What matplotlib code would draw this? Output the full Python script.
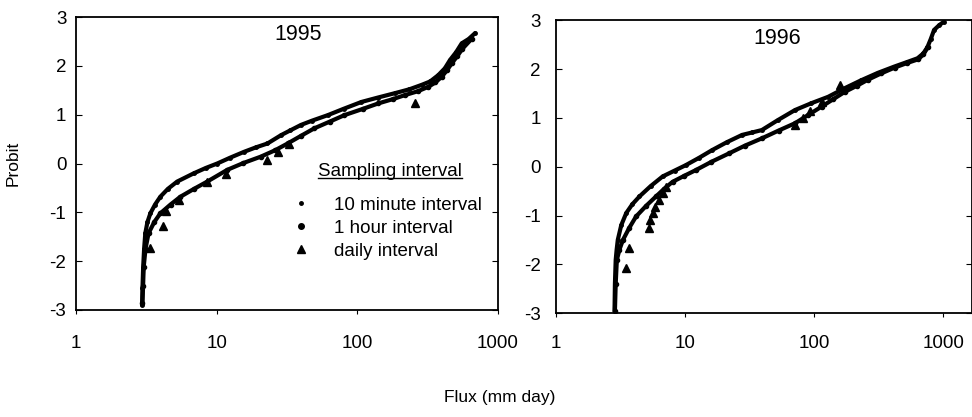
import matplotlib.pyplot as plt
from matplotlib.lines import Line2D
from matplotlib.ticker import FixedLocator, FixedFormatter, NullLocator

plt.rcParams['font.family'] = ['Liberation Sans', 'DejaVu Sans']
plt.rcParams['axes.unicode_minus'] = False

# 1995 data (flux in mm/day, probit)
flux_95_10min = [2.95, 2.97, 3.0, 3.05, 3.11, 3.22, 3.38, 3.65, 3.98, 4.5, 5.24, 6.89, 8.4, 10.1,
                 12.5, 15.7, 19.0, 23.0, 28.7, 33.5, 39.8, 48.0, 61.7, 80.0, 107, 140, 185, 235,
                 287, 330, 377, 420, 457, 505, 553, 620, 689]
prob_95_10min = [-2.90, -2.55, -2.15, -1.75, -1.43, -1.20, -1.02, -0.84, -0.68, -0.52, -0.37, -0.20,
                 -0.09, 0.00, 0.12, 0.24, 0.33, 0.41, 0.58, 0.68, 0.79, 0.88, 0.99, 1.12, 1.26, 1.35,
                 1.44, 1.52, 1.61, 1.68, 1.81, 1.95, 2.12, 2.28, 2.46, 2.55, 2.67]
flux_95_1hr = [2.97, 3.0, 3.03, 3.12, 3.28, 3.6, 3.98, 4.7, 5.53, 6.9, 8.58, 11.9, 15.5, 20.6,
               26.0, 32.0, 40.0, 49.5, 64.0, 81.0, 110, 141, 180, 218, 270, 320, 360, 400, 435,
               470, 515, 560, 650]
prob_95_1hr = [-2.85, -2.50, -2.12, -1.75, -1.43, -1.20, -1.02, -0.84, -0.68, -0.52, -0.37, -0.13,
               0.01, 0.14, 0.27, 0.41, 0.57, 0.72, 0.86, 0.99, 1.12, 1.23, 1.32, 1.40, 1.48, 1.57,
               1.66, 1.78, 1.91, 2.05, 2.20, 2.35, 2.55]
flux_95_daily = [3.38, 4.16, 4.39, 5.38, 8.58, 11.7, 23.0, 27.4, 32.9, 259]
prob_95_daily = [-1.74, -1.28, -0.97, -0.74, -0.37, -0.22, 0.08, 0.24, 0.40, 1.24]

# 1996 data
flux_96_10min = [2.84, 2.86, 2.9, 2.95, 3.01, 3.2, 3.50, 3.9, 4.43, 5.4, 6.70, 8.3, 10.1, 12.8,
                 16.2, 21.0, 27.6, 33.0, 39.3, 52.0, 71, 95, 128, 170, 231, 310, 417, 520, 631,
                 700, 753, 800, 847, 930, 1012]
prob_96_10min = [-2.96, -2.40, -1.91, -1.70, -1.50, -1.20, -0.95, -0.77, -0.61, -0.40, -0.20, -0.08,
                 0.03, 0.18, 0.34, 0.50, 0.65, 0.70, 0.75, 0.95, 1.16, 1.30, 1.43, 1.60, 1.77, 1.92,
                 2.05, 2.14, 2.22, 2.32, 2.45, 2.62, 2.80, 2.90, 2.97]
flux_96_1hr = [2.86, 2.9, 2.96, 3.1, 3.30, 3.7, 4.17, 5.0, 5.95, 6.9, 8.0, 9.8, 12.1, 16.0, 21.8,
               29.0, 39.3, 53.0, 71, 90, 114, 140, 172, 215, 260, 330, 420, 520, 640, 700, 760]
prob_96_1hr = [-2.96, -2.40, -1.91, -1.70, -1.50, -1.25, -1.02, -0.80, -0.61, -0.45, -0.31, -0.19,
               -0.07, 0.10, 0.27, 0.43, 0.58, 0.74, 0.89, 1.06, 1.23, 1.38, 1.53, 1.66, 1.78, 1.91,
               2.03, 2.12, 2.20, 2.30, 2.45]
flux_96_daily = [3.50, 3.67, 5.22, 5.38, 5.61, 5.88, 6.24, 6.70, 7.10, 71, 82, 92.6, 114, 157]
prob_96_daily = [-2.08, -1.67, -1.26, -1.09, -0.95, -0.82, -0.68, -0.54, -0.41, 0.85, 0.99, 1.13, 1.33, 1.67]

xticks = [1, 10, 100, 1000]
xtick_labels = ['1', '10', '100', '1000']
yticks = [-3, -2, -1, 0, 1, 2, 3]

fig = plt.figure(figsize=(9.72, 4.17), dpi=100)
ax1 = fig.add_axes([0.0782, 0.2566, 0.434, 0.7026])
ax2 = fig.add_axes([0.572, 0.249, 0.4285, 0.7026])


def draw_panel(ax, f10, p10, f1h, p1h, fd, pd_, year, xmax, xpad, ypad, tx):
    ax.plot(f10, p10, color='black', lw=3.0, marker='o', ms=2.5, solid_capstyle='round',
            solid_joinstyle='round')
    ax.plot(f1h, p1h, color='black', lw=3.0, marker='o', ms=3, solid_capstyle='round',
            solid_joinstyle='round')
    ax.plot(fd, pd_, linestyle='none', color='black', marker='^', ms=6)
    ax.set_xscale('log')
    ax.set_xlim(1, xmax)
    ax.set_ylim(-3, 3)
    ax.xaxis.set_major_locator(FixedLocator(xticks))
    ax.xaxis.set_major_formatter(FixedFormatter(xtick_labels))
    ax.xaxis.set_minor_locator(NullLocator())
    ax.set_yticks(yticks)
    ax.set_yticklabels([str(v) for v in yticks])
    ax.tick_params(axis='x', direction='out', length=3, labelsize=13.5, pad=xpad)
    ax.tick_params(axis='y', direction='in', length=4, labelsize=13.5, pad=ypad, right=True)
    for s in ax.spines.values():
        s.set_linewidth(1.3)
    ax.text(tx, 0.939, year, transform=ax.transAxes, ha='center', va='center', fontsize=15.5)


draw_panel(ax1, flux_95_10min, prob_95_10min, flux_95_1hr, prob_95_1hr,
           flux_95_daily, prob_95_daily, '1995', 1000, 15, 7, 0.526)
draw_panel(ax2, flux_96_10min, prob_96_10min, flux_96_1hr, prob_96_1hr,
           flux_96_daily, prob_96_daily, '1996', 1680, 13, 11, 0.531)

handles = [Line2D([], [], color='black', marker='o', ms=2.5, linestyle='none'),
           Line2D([], [], color='black', marker='o', ms=4, linestyle='none'),
           Line2D([], [], color='black', marker='^', ms=5.5, linestyle='none')]
labels = ['10 minute interval', '1 hour interval', 'daily interval']
leg = ax1.legend(handles, labels, loc='upper left', bbox_to_anchor=(0.51, 0.386), frameon=False,
                 fontsize=13.5, handlelength=1.0, handletextpad=1.3,
                 labelspacing=0.3, borderpad=0, borderaxespad=0)
title = ax1.text(0.744, 0.472, 'Sampling interval', transform=ax1.transAxes,
                 ha='center', va='center', fontsize=13.5)

fig.text(0.013, 0.609, 'Probit', rotation=90, ha='center', va='center', fontsize=12.5)
fig.text(0.514, 0.046, 'Flux (mm day)', ha='center', va='center', fontsize=12.5)

# underline the legend title
fig.canvas.draw()
bb = title.get_window_extent().transformed(fig.transFigure.inverted())
fig.add_artist(Line2D([bb.x0, bb.x1], [bb.y0 + 0.006, bb.y0 + 0.006], color='black', lw=1.0,
                      transform=fig.transFigure))

fig.savefig('out.png', dpi=100)
